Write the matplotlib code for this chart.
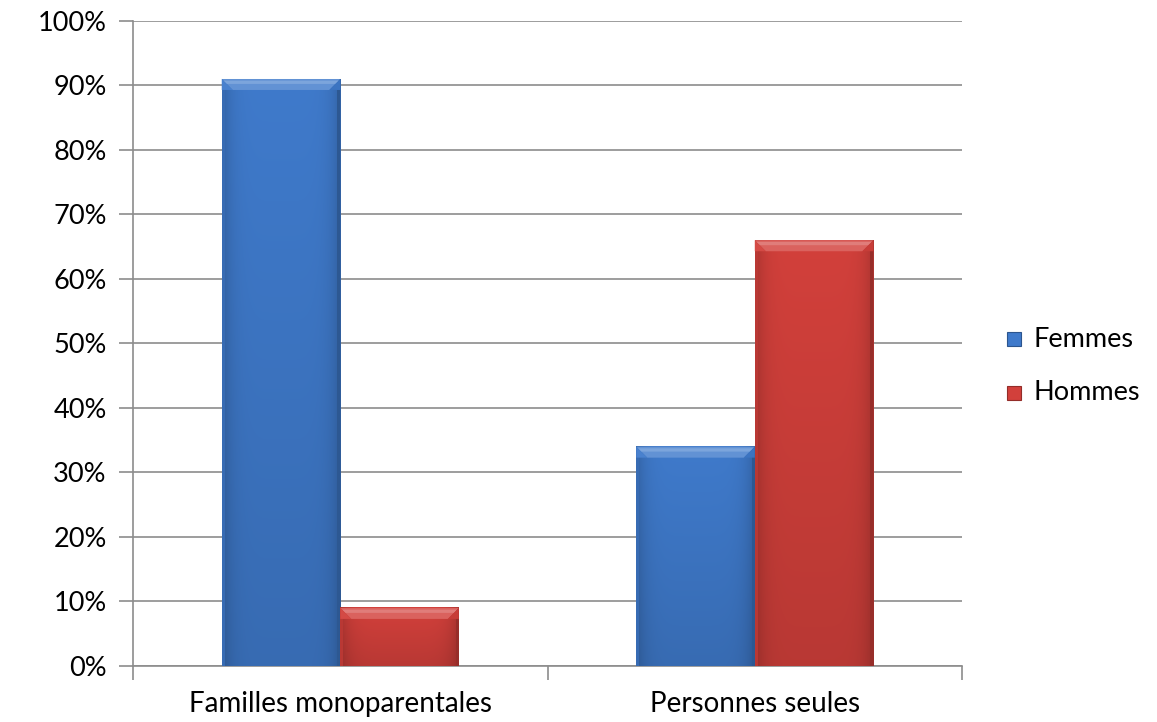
import numpy as np
import matplotlib
matplotlib.use("Agg")
import matplotlib.pyplot as plt
from matplotlib.patches import Polygon, Rectangle
from matplotlib.colors import to_rgb

categories = ["Familles monoparentales", "Personnes seules"]
series_names = ["Femmes", "Hommes"]
femmes = [91, 34]
hommes = [9, 66]
yticks = [0, 10, 20, 30, 40, 50, 60, 70, 80, 90, 100]

plt.rcParams["font.family"] = ["Lato", "DejaVu Sans"]

fig = plt.figure(figsize=(11.57, 7.22), dpi=100)
ax = fig.add_axes([0.115, 0.0776, 0.7165, 0.8934])

x = np.arange(len(categories))
width = 0.286
base_cols = {"Femmes": "#3f7acb", "Hommes": "#d2403b"}

bars_f = ax.bar(x - width / 2, femmes, width, color="none", zorder=3)
bars_h = ax.bar(x + width / 2, hommes, width, color="none", zorder=3)

ax.set_xlim(-0.5, 1.5)
ax.set_ylim(0, 100)

# data units per pixel
fig.canvas.draw()
p0 = ax.transData.transform((0, 0))
p1 = ax.transData.transform((1, 10))
dx_px = 1.0 / (p1[0] - p0[0])
dy_px = 10.0 / (p1[1] - p0[1])


def shade(c, f):
    c = np.array(to_rgb(c))
    if f >= 0:
        return tuple(c + (1 - c) * f)
    return tuple(c * (1 + f))


def bevel_bar(patch, col):
    x0, y0 = patch.get_x(), patch.get_y()
    w, h = patch.get_width(), patch.get_height()
    # body: horizontal shading (darker at sides) combined with vertical fade
    nx, ny = 60, 100
    xs = np.linspace(0, 1, nx)
    ys = np.linspace(0, 1, ny)
    side = 1 - 0.18 * (np.abs(xs - 0.5) * 2) ** 6
    vert = 0.88 + 0.12 * ys
    base = np.array(to_rgb(col))
    img = base[None, None, :] * (side[None, :, None] * vert[:, None, None])
    img = np.clip(img, 0, 1)
    ax.imshow(img, extent=(x0, x0 + w, y0, y0 + h), origin="lower",
              aspect="auto", zorder=3, interpolation="bilinear")
    bv = 11
    bx, by = bv * dx_px, bv * dy_px
    top = y0 + h
    # side edges (slightly darker)
    sx = 3 * dx_px
    ax.add_patch(Rectangle((x0, y0), sx, h, facecolor=shade(col, -0.12),
                           edgecolor="none", zorder=4))
    ax.add_patch(Rectangle((x0 + w - sx, y0), sx, h, facecolor=shade(col, -0.28),
                           edgecolor="none", zorder=4))
    # top bevel (light), with angled corners
    ax.add_patch(Polygon([(x0, top), (x0 + w, top), (x0 + w - bx, top - by),
                          (x0 + bx, top - by)], closed=True,
                         facecolor=shade(col, 0.18), edgecolor="none", zorder=5))
    ax.add_patch(Polygon([(x0 + 0.15 * bx, top - 0.15 * by), (x0 + w - 0.15 * bx, top - 0.15 * by),
                          (x0 + w - 0.45 * bx, top - 0.45 * by), (x0 + 0.45 * bx, top - 0.45 * by)],
                         closed=True, facecolor=shade(col, 0.32), edgecolor="none", zorder=5))
    # right corner of top bevel, shaded
    ax.add_patch(Polygon([(x0 + w, top), (x0 + w - bx, top - by), (x0 + w, top - by)],
                         closed=True, facecolor=shade(col, -0.05), edgecolor="none", zorder=5))
    ax.add_patch(Polygon([(x0, top), (x0 + bx, top - by), (x0, top - by)],
                         closed=True, facecolor=shade(col, 0.05), edgecolor="none", zorder=5))


for p in bars_f:
    bevel_bar(p, base_cols["Femmes"])
for p in bars_h:
    bevel_bar(p, base_cols["Hommes"])

ax.set_xlim(-0.5, 1.5)
ax.set_ylim(0, 100)

grid_col = "#8c8c8c"
ax.set_yticks(yticks)
ax.set_yticklabels([f"{v}%" for v in yticks])
ax.yaxis.grid(True, color=grid_col, linewidth=1.2, zorder=0)
ax.set_axisbelow(True)

ax.set_xticks([-0.5, 0.5, 1.5])
ax.set_xticklabels([])
ax.set_xticks(x, minor=True)
ax.set_xticklabels(categories, minor=True)
ax.tick_params(axis="x", which="minor", length=0, pad=18, labelsize=20)
ax.tick_params(axis="x", which="major", length=10, color=grid_col, width=1.2)
ax.tick_params(axis="y", length=10, color=grid_col, width=1.2, labelsize=19.5, pad=9)

for s in ["top", "right"]:
    ax.spines[s].set_visible(False)
for s in ["left", "bottom"]:
    ax.spines[s].set_color(grid_col)
    ax.spines[s].set_linewidth(1.2)

# legend
for i, name in enumerate(series_names):
    yf = 1 - (339 + i * 54) / 722
    col = base_cols[name]
    fig.patches.append(Rectangle((1007 / 1157, yf - 7 / 722), 14 / 1157, 14 / 722,
                                 transform=fig.transFigure, facecolor=col,
                                 edgecolor=shade(col, -0.3), linewidth=0.8))
    fig.text(1033 / 1157, yf, name, fontsize=19.5, va="center", ha="left")

fig.savefig("out.png", dpi=100, facecolor="white")
